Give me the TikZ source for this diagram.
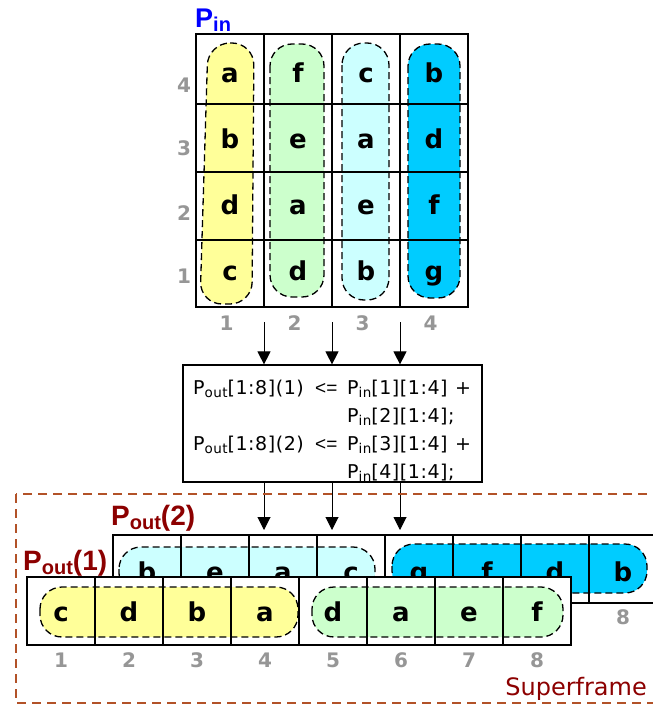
\documentclass[tikz,border=0pt]{standalone}
\usepackage{fontspec}
\setmainfont{Liberation Sans}
\newfontfamily\rulefont[LetterSpace=3]{DejaVu Sans}
\newfontfamily\framefont{DejaVu Sans}
\newfontfamily\cellfont{DejaVu Sans}
\usepackage{tikz}
\usetikzlibrary{arrows.meta, positioning}
\definecolor{grpyellow}{RGB}{255,255,153}
\definecolor{grpgreen}{RGB}{204,255,204}
\definecolor{grpcyan}{RGB}{204,255,255}
\definecolor{grpblue}{RGB}{0,204,255}
\definecolor{idxgray}{RGB}{150,150,150}
\definecolor{pinblue}{RGB}{0,0,255}
\definecolor{poutred}{RGB}{140,0,0}
\definecolor{framebrown}{RGB}{178,82,40}
\newcommand{\psub}[3]{{\fontsize{#1}{#1}\selectfont\raisebox{-#2}{#3}}}
\newcommand{\assign}{{\normalfont\fontsize{19}{19}\selectfont<=}}

\begin{document}
\begin{tikzpicture}[x=1pt, y=-1pt,
  cell/.style={draw, line width=1.1pt},
  grp/.style={draw, dash pattern=on 7pt off 4pt, line width=1.3pt, rounded corners=22pt},
  letter/.style={font=\cellfont\fontsize{26}{26}\selectfont\bfseries, inner sep=0pt, anchor=base},
  idx/.style={font=\cellfont\fontsize{20}{20}\selectfont\bfseries, text=idxgray, inner sep=0pt, anchor=base},
  flow/.style={-{Triangle[width=13pt,length=13pt]}, line width=1pt}]

\useasboundingbox (0,0) rectangle (653,707);
\clip (0,0) rectangle (653,707);

% --- P_in: input matrix ---
\node[anchor=base west, inner sep=0pt, text=pinblue, font=\fontsize{27}{27}\selectfont\bfseries]
  (pin) at (195,27) {P\psub{20}{4pt}{in}};

% column groups
\draw[grp, fill=grpyellow] (208,43) -- (254,43) -- (252,304) -- (200,304) -- cycle;
\draw[grp, fill=grpgreen] (270,44) rectangle (324,297);
\draw[grp, fill=grpcyan] (342,43) rectangle (389,300);
\draw[grp, fill=grpblue] (408,44) rectangle (460,298);

\foreach \c in {0,...,3}
  \foreach \y/\yy in {34/104,104/172,172/240,240/307}
    \draw[cell] (196+68*\c,\y) rectangle (264+68*\c,\yy);

\foreach \c/\la/\lb/\lc/\ld in {1/a/b/d/c, 2/f/e/a/d, 3/c/a/e/b, 4/b/d/f/g} {
  \node[letter] (in-\c-4) at (162+68*\c,82) {\la};
  \node[letter] (in-\c-3) at (162+68*\c,148) {\lb};
  \node[letter] (in-\c-2) at (162+68*\c,214) {\lc};
  \node[letter] (in-\c-1) at (162+68*\c,280) {\ld};
}
\foreach \r/\y in {4/92,3/155,2/220,1/283}
  \node[idx] (row-\r) at (184,\y) {\r};
\foreach \c in {1,...,4}
  \node[idx] (col-\c) at (158.5+68*\c,330) {\c};

% --- mapping rule ---
\node[draw, line width=1.2pt, minimum width=299pt, minimum height=117pt, inner sep=0pt]
  (rule) at (332.5,423.5) {};
\node[anchor=base west, inner sep=0pt, font=\rulefont\fontsize{19}{28}\selectfont] (ruletext) at (193,394) {%
  \begin{tabular}[t]{@{}l@{}}
  \makebox[122pt][l]{P\psub{13.5}{3pt}{out}[1:8](1)}\makebox[32pt][l]{\assign}\makebox[108pt][l]{P\psub{13.5}{3pt}{in}[1][1:4]}+\\
  \hspace{154pt}P\psub{13.5}{3pt}{in}[2][1:4];\\
  \makebox[122pt][l]{P\psub{13.5}{3pt}{out}[1:8](2)}\makebox[32pt][l]{\assign}\makebox[108pt][l]{P\psub{13.5}{3pt}{in}[3][1:4]}+\\
  \hspace{154pt}P\psub{13.5}{3pt}{in}[4][1:4];
  \end{tabular}};

\foreach \x [count=\i] in {264,332,400} {
  \coordinate (top-\i) at (\x,322);
  \coordinate (bot-\i) at (\x,530);
}
\foreach \i in {1,2,3} {
  \draw[flow] (top-\i) -- (top-\i |- rule.north);
  \draw[flow] (rule.south -| bot-\i) -- (bot-\i);
}

% --- Superframe ---
\draw[framebrown, line width=1.2pt, dash pattern=on 9pt off 6pt] (16,494) rectangle (670,703);
\node[anchor=base east, inner sep=0pt, text=poutred, font=\framefont\fontsize{24}{24}\selectfont]
  (superframe) at (647,695) {Superframe};

% P_out(2)
\node[anchor=base west, inner sep=0pt, text=poutred, font=\fontsize{28}{28}\selectfont\bfseries]
  (pout2) at (111,525) {P\psub{20}{4pt}{out}(2)};
\draw[grp, fill=grpcyan] (119,547) rectangle (375,595);
\draw[grp, fill=grpblue] (392,544) rectangle (647,593);
\foreach \k in {0,...,7}
  \draw[cell] (113+68*\k,535) rectangle +(68,68);
\foreach \l [count=\k] in {b,e,a,c,g,f,d,b}
  \node[letter] (out2-\k) at (79+68*\k,581) {\l};
\node[idx] (out2-idx) at (623,624) {8};

% P_out(1)
\node[anchor=base west, inner sep=0pt, text=poutred, font=\fontsize{28}{28}\selectfont\bfseries]
  (pout1) at (23,570) {P\psub{20}{4pt}{out}(1)};
\fill[white] (27,577) rectangle (571,645);
\draw[grp, fill=grpyellow] (40,587) rectangle (298,637);
\draw[grp, fill=grpgreen] (312,587) rectangle (563,637);
\foreach \k in {0,...,7}
  \draw[cell] (27+68*\k,577) rectangle +(68,68);
\foreach \l [count=\k] in {c,d,b,a,d,a,e,f}
  \node[letter] (out1-\k) at (-7+68*\k,621) {\l};
\foreach \k in {1,...,8}
  \node[idx] (out1-idx-\k) at (-7+68*\k,667) {\k};

\end{tikzpicture}
\end{document}
